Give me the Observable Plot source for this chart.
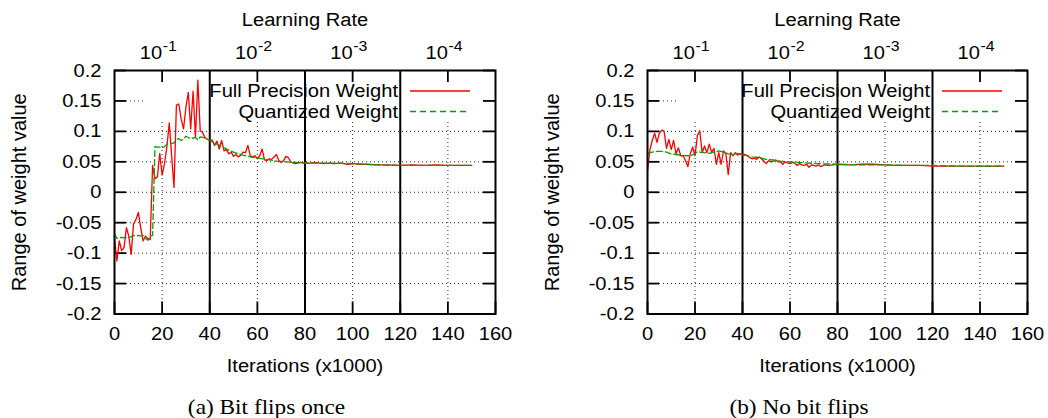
<!DOCTYPE html>
<html><head><meta charset="utf-8">
<script src="https://cdn.jsdelivr.net/npm/d3@7"></script>
<script src="https://cdn.jsdelivr.net/npm/@observablehq/plot@0.6"></script>
<style>
body{margin:0;background:#fff}
#wrap{position:relative;width:1048px;height:418px;overflow:hidden;background:#fff}
#wrap svg{position:absolute;top:0}
</style></head><body><div id="wrap"></div>
<script>
// ---------- data (iteration x1000, weight range) ----------
const fullA = [[0,-0.074],[1,-0.113],[2,-0.08],[3,-0.096],[4,-0.091],[5,-0.058],[6,-0.072],[7,-0.102],[8,-0.052],[9,-0.045],[10,-0.033],[11,-0.058],[12,-0.08],[13,-0.072],[14,-0.076],[15,-0.078],[16,0.044],[17,0.022],[18,0.025],[19,0.064],[20,0.028],[21,0.047],[22,0.075],[23,0.114],[24,0.06],[25,0.008],[26,0.143],[27,0.145],[28,0.12],[29,0.104],[30,0.14],[31,0.164],[32,0.104],[33,0.166],[34,0.09],[35,0.184],[36,0.101],[37,0.098],[38,0.09],[39,0.087],[40,0.085],[41,0.086],[42,0.077],[43,0.084],[44,0.071],[45,0.085],[46,0.068],[47,0.07],[48,0.063],[49,0.066],[50,0.059],[51,0.062],[52,0.058],[53,0.061],[54,0.066],[55,0.065],[56,0.077],[57,0.06],[58,0.058],[59,0.06],[60,0.055],[61,0.06],[62,0.071],[63,0.053],[64,0.052],[65,0.055],[66,0.054],[67,0.058],[68,0.062],[69,0.052],[70,0.049],[71,0.052],[72,0.059],[73,0.057],[74,0.05],[75,0.048],[76,0.047],[78,0.049],[80,0.048],[82,0.048],[84,0.049],[86,0.048],[88,0.047],[90,0.048],[92,0.047],[95,0.048],[98,0.046],[100,0.047],[103,0.046],[106,0.046],[110,0.045],[115,0.045],[120,0.044],[125,0.045],[130,0.044],[135,0.045],[140,0.044],[145,0.044],[150,0.044]];
const quantA = [[0,-0.068],[1,-0.076],[2,-0.075],[3,-0.074],[4,-0.075],[5,-0.074],[6,-0.075],[7,-0.073],[8,-0.071],[9,-0.072],[10,-0.071],[11,-0.072],[12,-0.071],[13,-0.076],[14,-0.079],[15,-0.072],[16,-0.071],[17,0.075],[18,0.074],[19,0.074],[20,0.073],[21,0.075],[22,0.079],[23,0.08],[24,0.08],[25,0.081],[26,0.087],[27,0.088],[28,0.085],[29,0.088],[30,0.092],[31,0.09],[32,0.088],[33,0.089],[34,0.09],[35,0.086],[36,0.091],[37,0.09],[38,0.089],[39,0.087],[40,0.085],[42,0.081],[44,0.077],[46,0.073],[48,0.069],[50,0.066],[53,0.062],[56,0.059],[60,0.056],[64,0.054],[68,0.051],[72,0.05],[76,0.049],[80,0.048],[90,0.048],[100,0.047],[110,0.045],[120,0.044],[130,0.044],[140,0.044],[150,0.044]];
const fullB = [[0,0.035],[1,0.07],[2,0.085],[3,0.097],[4,0.082],[5,0.097],[6,0.102],[7,0.1],[8,0.072],[9,0.087],[10,0.07],[11,0.085],[12,0.063],[13,0.073],[14,0.06],[15,0.06],[16,0.052],[17,0.042],[18,0.063],[19,0.074],[20,0.06],[21,0.093],[22,0.101],[23,0.065],[24,0.076],[25,0.065],[26,0.079],[27,0.065],[28,0.072],[29,0.046],[30,0.065],[31,0.046],[32,0.068],[33,0.063],[34,0.029],[35,0.065],[36,0.06],[37,0.065],[38,0.061],[39,0.063],[40,0.062],[41,0.062],[42,0.06],[43,0.057],[44,0.055],[45,0.056],[46,0.054],[47,0.058],[48,0.055],[49,0.051],[50,0.047],[51,0.052],[52,0.05],[53,0.051],[54,0.053],[55,0.05],[56,0.05],[57,0.046],[58,0.05],[59,0.048],[60,0.047],[61,0.049],[62,0.048],[63,0.044],[64,0.047],[65,0.045],[66,0.044],[67,0.046],[68,0.041],[69,0.045],[70,0.044],[71,0.043],[72,0.045],[73,0.042],[74,0.044],[75,0.045],[76,0.044],[78,0.045],[80,0.046],[85,0.045],[90,0.046],[95,0.046],[100,0.045],[105,0.044],[110,0.044],[115,0.044],[120,0.043],[130,0.043],[140,0.043],[150,0.043]];
const quantB = [[0,0.064],[2,0.066],[4,0.067],[6,0.067],[8,0.066],[10,0.063],[12,0.062],[14,0.061],[16,0.06],[18,0.06],[20,0.063],[21,0.067],[22,0.066],[24,0.065],[26,0.064],[28,0.066],[30,0.068],[32,0.066],[34,0.063],[36,0.062],[38,0.064],[40,0.061],[42,0.06],[44,0.058],[46,0.0575],[48,0.056],[50,0.054],[53,0.053],[56,0.051],[60,0.05],[64,0.049],[67,0.048],[72,0.047],[80,0.046],[90,0.045],[100,0.045],[110,0.044],[120,0.044],[130,0.043],[140,0.043],[150,0.043]];

const xTicks = [0,20,40,60,80,100,120,140,160];
const yTicks = [-0.2,-0.15,-0.1,-0.05,0,0.05,0.1,0.15,0.2];
const yGridFull = [-0.15,-0.1,-0.05,0,0.05,0.1];
const yGridShort = [0.15];
const xGridDotted = [20,60,100,140];
const lrBoundaries = [40,80,120];
const lrTicks = [{iter:20, exp:"-1"},{iter:60, exp:"-2"},{iter:100, exp:"-3"},{iter:140, exp:"-4"}];
const legendItems = [
  {label:"Full Precision Weight", color:"#ff0000", dash:null},
  {label:"Quantized Weight", color:"#00a000", dash:"6,4"}
];
const xLabel = "Iterations (x1000)";
const yLabel = "Range of weight value";
const topLabel = "Learning Rate";
const captions = ["(a) Bit flips once", "(b) No bit flips"];

const SANS = "'Liberation Sans', Arial, Helvetica, sans-serif";
const SERIF = "'Liberation Serif', 'Times New Roman', serif";
const FS = 19;
const STRETCH = 1.06;

function panel(full, quant, caption, W, mR) {
  const H = 418, mL = 114, mT = 70, mB = 104.5;
  const fw = W - mL - mR, fh = H - mT - mB;
  const dot = {stroke:"#000", strokeWidth:1, strokeDasharray:"1,3", strokeOpacity:0.85};
  const tick = {stroke:"#000", strokeWidth:1.8};
  return Plot.plot({
    width: W, height: H, marginLeft: mL, marginRight: mR, marginTop: mT, marginBottom: mB,
    style: {fontFamily: SANS, fontSize: FS + "px", background: "white", overflow: "visible", color: "#000"},
    x: {domain: [0,160]},
    y: {domain: [-0.2,0.2]},
    marks: [
      Plot.ruleY(yGridFull, dot),
      Plot.ruleY(yGridShort, {...dot, insetRight: fw - 31}),
      Plot.ruleX(xGridDotted, {...dot, insetTop: 52}),
      Plot.ruleX(lrBoundaries, {stroke:"#000", strokeWidth:2}),
      Plot.ruleX(xTicks, {...tick, insetTop: fh - 12}),
      Plot.ruleX(xGridDotted, {...tick, insetBottom: fh - 12}),
      Plot.ruleY(yTicks, {...tick, insetRight: fw - 12}),
      Plot.ruleY(yTicks, {...tick, insetLeft: fw - 12}),
      Plot.line(full, {stroke:"#ff0000", strokeWidth:1.3}),
      Plot.line(quant, {stroke:"#00a000", strokeWidth:1.3, strokeDasharray:"6,3"}),
      Plot.frame({stroke:"#000", strokeWidth:2}),
      Plot.axisX({ticks: xTicks, tickSize: 0, tickPadding: 13, tickFormat: d => String(d), fontSize: FS, label: null}),
      Plot.axisY({ticks: yTicks, tickSize: 0, tickPadding: 13, tickFormat: d => d === 0 ? "0" : String(d), fontSize: FS, label: null}),
      Plot.text([xLabel], {text: d => d, frameAnchor: "bottom", dy: 51.5, lineAnchor: "middle", textAnchor: "middle", fontSize: FS}),
      Plot.text([yLabel], {text: d => d, frameAnchor: "left", rotate: -90, dx: -95, lineAnchor: "middle", textAnchor: "middle", fontSize: FS + 1}),
      Plot.text([topLabel], {text: d => d, frameAnchor: "top", dy: -50.5, lineAnchor: "middle", textAnchor: "middle", fontSize: FS}),
      Plot.text(lrTicks, {x: "iter", frameAnchor: "top", text: () => "10", textAnchor: "end", lineAnchor: "middle", dy: -17.8, fontSize: FS}),
      Plot.text(lrTicks, {x: "iter", frameAnchor: "top", text: "exp", textAnchor: "start", lineAnchor: "middle", dx: 0.5, dy: -24.8, fontSize: 15}),
      Plot.text([caption], {text: d => d, frameAnchor: "bottom", dx: -38.5, dy: 93.2, lineAnchor: "middle", textAnchor: "middle", fontFamily: SERIF, fontSize: 22}),
      (index, scales, values, dims) => {
        const g = d3.create("svg:g");
        const right = dims.width - dims.marginRight;
        legendItems.forEach((it, i) => {
          const y = dims.marginTop + 21 + i * 20.5;
          g.append("text").attr("transform", `translate(${right - 97},${y})`).attr("dy", "0.32em")
            .attr("text-anchor", "end").attr("font-size", FS).attr("fill", "#000").text(it.label);
          const ln = g.append("line").attr("x1", right - 85).attr("x2", right - 25)
            .attr("y1", y).attr("y2", y).attr("stroke", it.color).attr("stroke-width", 1.3);
          if (it.dash) ln.attr("stroke-dasharray", it.dash);
        });
        return g.node();
      }
    ]
  });
}

function isPlainNumber(v) { return v != null && /^-?[\d.]+$/.test(v.trim()); }
function stretchText(svg) {
  svg.querySelectorAll("text").forEach(t => {
    const tr = t.getAttribute("transform") || "";
    if (tr.includes("rotate")) return;
    let extra = "";
    const xa = t.getAttribute("x"), ya = t.getAttribute("y");
    let x = 0, y = 0;
    if (isPlainNumber(xa)) { x = +xa; t.removeAttribute("x"); }
    if (isPlainNumber(ya)) { y = +ya; t.removeAttribute("y"); }
    if (x || y) extra = ` translate(${x},${y})`;
    t.setAttribute("transform", `${tr}${extra} scale(${STRETCH},1)`.trim());
  });
}

const wrap = document.getElementById("wrap");
const a = panel(fullA, quantA, captions[0], 533, 38);
a.style.left = "0px";
const b = panel(fullB, quantB, captions[1], 515, 21);
b.style.left = "533px";
wrap.appendChild(a);
wrap.appendChild(b);
stretchText(a);
stretchText(b);
</script></body></html>
